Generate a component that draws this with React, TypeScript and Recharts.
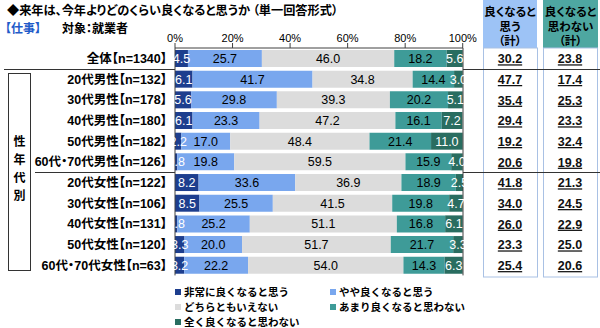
import React from 'react';
import { BarChart, Bar, XAxis, YAxis, LabelList } from 'recharts';

const categories = [
  '全体【n=1340】',
  '20代男性【n=132】',
  '30代男性【n=178】',
  '40代男性【n=180】',
  '50代男性【n=182】',
  '60代・70代男性【n=126】',
  '20代女性【n=122】',
  '30代女性【n=106】',
  '40代女性【n=131】',
  '50代女性【n=120】',
  '60代・70代女性【n=63】',
];
const seriesNames = [
  '非常に良くなると思う',
  'やや良くなると思う',
  'どちらともいえない',
  'あまり良くなると思わない',
  '全く良くなると思わない',
];
const veryGood = [4.5, 6.1, 5.6, 6.1, 2.2, 0.8, 8.2, 8.5, 0.8, 3.3, 3.2];
const somewhatGood = [25.7, 41.7, 29.8, 23.3, 17.0, 19.8, 33.6, 25.5, 25.2, 20.0, 22.2];
const neither = [46.0, 34.8, 39.3, 47.2, 48.4, 59.5, 36.9, 41.5, 51.1, 51.7, 54.0];
const notMuch = [18.2, 14.4, 20.2, 16.1, 21.4, 15.9, 18.9, 19.8, 16.8, 21.7, 14.3];
const notAtAll = [5.6, 3.0, 5.1, 7.2, 11.0, 4.0, 2.5, 4.7, 6.1, 3.3, 6.3];
const goodTotal = [30.2, 47.7, 35.4, 29.4, 19.2, 20.6, 41.8, 34.0, 26.0, 23.3, 25.4];
const notGoodTotal = [23.8, 17.4, 25.3, 23.3, 32.4, 19.8, 21.3, 24.5, 22.9, 25.0, 20.6];
const xTicks = [0, 20, 40, 60, 80, 100];
const groupLabel = ['性', '年', '代', '別'];
const header1 = ['良くなると', '思う', '（計）'];
const header2 = ['良くなると', '思わない', '（計）'];

const seriesValues = [veryGood, somewhatGood, neither, notMuch, notAtAll];
const keys = ['s0', 's1', 's2', 's3', 's4'];
const colors = ['#1D3E8E', '#79A7EE', '#DCDCDC', '#3E9B98', '#296D60'];
const labelColors = ['#FFFFFF', '#000000', '#000000', '#000000', '#FFFFFF'];

const data = categories.map((name, i) => {
  const row: any = { name, good: goodTotal[i], notGood: notGoodTotal[i] };
  keys.forEach((k, j) => {
    row[k] = seriesValues[j][i];
  });
  return row;
});

const FONT = '"Liberation Sans", "Noto Sans CJK JP", sans-serif';
const CJK = '"Noto Sans CJK JP", "Liberation Sans", sans-serif';

const LeftTick = (props: any) => {
  const { x, y, payload } = props;
  return (
    <text
      x={x}
      y={y}
      dy={4.5}
      textAnchor="end"
      fontSize={12.5}
      fontWeight="bold"
      fill="#000"
      style={{ fontFamily: FONT, fontFeatureSettings: '"palt"' }}
    >
      {payload.value}
    </text>
  );
};

const RightTick = (props: any) => {
  const { x, y, payload } = props;
  const row = data.find((d) => d.name === payload.value);
  if (!row) return null;
  const common = {
    y,
    dy: 5,
    textAnchor: 'middle' as const,
    fontSize: 12.5,
    fontWeight: 'bold',
    fill: '#111',
    textDecoration: 'underline',
    style: { fontFamily: FONT },
  };
  return (
    <g>
      <text x={x + 47} {...common}>{row.good.toFixed(1)}</text>
      <text x={x + 107} {...common}>{row.notGood.toFixed(1)}</text>
    </g>
  );
};

export default function App() {
  return (
    <div
      style={{
        position: 'absolute',
        left: 0,
        top: 0,
        width: 600,
        height: 328,
        background: '#fff',
        fontFamily: FONT,
        overflow: 'hidden',
      }}
    >
      <svg width={600} height={328} style={{ position: 'absolute', left: 0, top: 0 }}>
        <text x={7} y={15} fontSize={12.2} fontWeight="bold" fill="#000" style={{ fontFamily: CJK, fontFeatureSettings: '"palt"' }}>
          ◆来年は、今年よりどのくらい良くなると思うか （単一回答形式）
        </text>
        <text x={5} y={33} fontSize={12} fontWeight="bold" fill="#1F5BC9" style={{ fontFamily: CJK, fontFeatureSettings: '"palt"' }}>
          【仕事】
        </text>
        <text x={62} y={33} fontSize={12} fontWeight="bold" fill="#000" style={{ fontFamily: CJK, fontFeatureSettings: '"palt"' }}>
          対象：就業者
        </text>
        {/* header boxes */}
        <rect x={483} y={0} width={54} height={48} fill="#9DC3F6" />
        <rect x={543} y={0} width={55} height={48} fill="#4EA7A1" />
        {header1.map((t, i) => (
          <text key={'h1' + i} x={510} y={16 + i * 14.5} textAnchor="middle" fontSize={11.5} fontWeight="bold" fill="#000" style={{ fontFamily: CJK, fontFeatureSettings: '"palt"' }}>
            {t}
          </text>
        ))}
        {header2.map((t, i) => (
          <text key={'h2' + i} x={570.5} y={16 + i * 14.5} textAnchor="middle" fontSize={11.5} fontWeight="bold" fill="#000" style={{ fontFamily: CJK, fontFeatureSettings: '"palt"' }}>
            {t}
          </text>
        ))}
        {/* column boxes */}
        <rect x={483.5} y={48} width={54} height={229} fill="none" stroke="#A9C1E4" strokeWidth={1} />
        <rect x={543.5} y={48} width={54} height={229} fill="none" stroke="#A9C1E4" strokeWidth={1} />
        {/* left group box */}
        <rect x={8.5} y={73.5} width={22} height={197} fill="none" stroke="#333" strokeWidth={1} />
        {groupLabel.map((t, i) => (
          <text key={'g' + i} x={19.5} y={146 + i * 18} textAnchor="middle" fontSize={12} fontWeight="bold" fill="#000" style={{ fontFamily: CJK }}>
            {t}
          </text>
        ))}
        {/* separators */}
        <line x1={4} x2={175} y1={69.5} y2={69.5} stroke="#333" />
        <line x1={463} x2={600} y1={69.5} y2={69.5} stroke="#333" />
        <line x1={35} x2={175} y1={172.5} y2={172.5} stroke="#333" />
        <line x1={463} x2={600} y1={172.5} y2={172.5} stroke="#333" />
      </svg>
      <div style={{ position: 'absolute', left: 0, top: 0 }}>
        <BarChart
          width={600}
          height={328}
          data={data}
          layout="vertical"
          margin={{ top: 18, right: 0, bottom: 52.6, left: 8 }}
          barCategoryGap={2}
          style={{ fontFamily: FONT }}
        >
          <XAxis
            type="number"
            orientation="top"
            domain={[0, 100]}
            ticks={xTicks}
            tickFormatter={(v: number) => v + '%'}
            axisLine={{ stroke: '#404040' }}
            tickLine={{ stroke: '#404040' }}
            tickSize={5}
            tickMargin={1}
            height={30}
            tick={{ fontSize: 11, fill: '#000' }}
          />
          <YAxis
            yAxisId="left"
            type="category"
            dataKey="name"
            width={167}
            tickLine={false}
            tickSize={0}
            tickMargin={8}
            axisLine={{ stroke: '#404040' }}
            tick={<LeftTick />}
            interval={0}
          />
          <YAxis
            yAxisId="right"
            orientation="right"
            type="category"
            dataKey="name"
            width={137}
            tickLine={false}
            tickSize={0}
            tickMargin={0}
            axisLine={{ stroke: '#404040' }}
            tick={<RightTick />}
            interval={0}
          />
          {keys.map((k, j) => (
            <Bar
              key={k}
              dataKey={k}
              name={seriesNames[j]}
              stackId="a"
              yAxisId="left"
              fill={colors[j]}
              isAnimationActive={false}
            >
              <LabelList
                dataKey={k}
                position="center"
                fill={labelColors[j]}
                fontSize={12.5}
                formatter={(v: any) => Number(v).toFixed(1)}
              />
            </Bar>
          ))}
        </BarChart>
      </div>
      {/* legend */}
      <div
        style={{
          position: 'absolute',
          left: 173,
          top: 284,
          width: 340,
          display: 'grid',
          gridTemplateColumns: '155px 185px',
          rowGap: 0,
        }}
      >
        {seriesNames.map((n, j) => (
          <div
            key={n}
            style={{
              display: 'flex',
              alignItems: 'center',
              height: 15,
              fontSize: 10.5,
              fontWeight: 'bold',
              color: '#000',
              fontFamily: CJK,
              whiteSpace: 'nowrap',
            }}
          >
            <span style={{ display: 'inline-block', width: 6, height: 6, background: colors[j], marginLeft: 2, marginRight: 3 }} />
            {n}
          </div>
        ))}
      </div>
    </div>
  );
}
